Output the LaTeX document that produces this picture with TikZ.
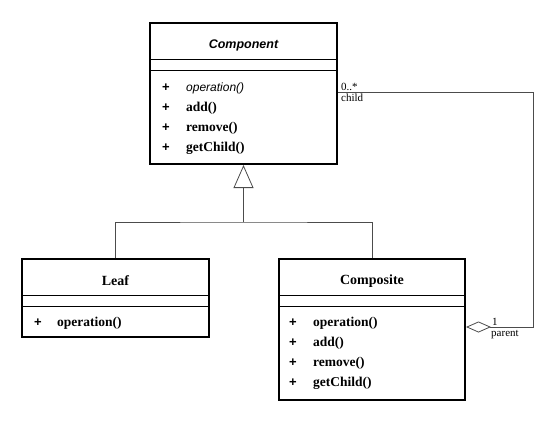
\documentclass[tikz,border=0pt]{standalone}
\usepackage{fontspec}
\setmainfont{Liberation Serif}
\newfontfamily\headsans{Liberation Sans}
\usepackage{tikz}
\usetikzlibrary{arrows.meta}

\begin{document}
\begin{tikzpicture}[%
  x=1pt, y=-1pt,
  classbox/.style={draw, line width=2pt, inner sep=0pt},
  divider/.style={draw, line width=0.8pt},
  member/.style={anchor=west, inner sep=0pt, font=\fontsize{13.5}{15}\selectfont\bfseries},
  plus/.style={anchor=west, inner sep=0pt, font=\headsans\fontsize{13}{15}\selectfont\bfseries},
  classname/.style={inner sep=0pt, font=\fontsize{14}{16}\selectfont\bfseries},
  role/.style={inner sep=0pt, font=\fontsize{11}{12}\selectfont},
  link/.style={draw, line width=0.8pt, black!70}
  ]
  \useasboundingbox (0,0) rectangle (557,424);
  % classes
  \node[classbox, minimum width=187, minimum height=141] (component) at (243.5,93.5) {};
  \node[classbox, minimum width=187, minimum height=78] (leaf) at (115.5,298) {};
  \node[classbox, minimum width=186, minimum height=141] (composite) at (372,329.5) {};
  % compartments
  \draw[divider] (component.west |- 0,59) -- (component.east |- 0,59)
    (component.west |- 0,70) -- (component.east |- 0,70);
  \draw[divider] (leaf.west |- 0,295) -- (leaf.east |- 0,295)
    (leaf.west |- 0,306) -- (leaf.east |- 0,306);
  \draw[divider] (composite.west |- 0,295) -- (composite.east |- 0,295)
    (composite.west |- 0,306) -- (composite.east |- 0,306);
  % names
  \node[classname, font=\headsans\fontsize{12.5}{14}\selectfont\bfseries\itshape] (componentname) at (243.5,45) {Component};
  \node[classname] (leafname) at (115.5,281) {Leaf};
  \node[classname] (compositename) at (372,281) {Composite};
  % operations
  \node[plus] (cplus1) at (162,88) {+};
  \node[member, font=\headsans\fontsize{12}{14}\selectfont\itshape] (cop1) at (186,88) {operation()};
  \foreach \y/\op [count=\i from 2] in {108/add(), 128/remove(), 148/getChild()} {
    \node[plus] (cplus\i) at (162,\y) {+};
    \node[member] (cop\i) at (186,\y) {\op};
  }
  \node[plus] (lplus1) at (34,323) {+};
  \node[member] (lop1) at (57,323) {operation()};
  \foreach \y/\op [count=\i] in {323/operation(), 343/add(), 363/remove(), 383/getChild()} {
    \node[plus] (kplus\i) at (289,\y) {+};
    \node[member] (kop\i) at (313,\y) {\op};
  }
  % generalization
  \coordinate (fork) at (243.5,222);
  \draw[link] (leaf.north) |- (fork) -| (composite.north);
  \draw[link, -{Triangle[open, length=23, width=20, fill=white]}] (fork) -- (component.south);
  % aggregation
  \coordinate (childend) at (component.east |- 0,92);
  \coordinate (parentend) at (composite.east |- 0,327);
  \coordinate (turnA) at (533,92);
  \coordinate (turnB) at (533,327);
  \draw[link, -{Diamond[open, length=25, width=11, fill=white]}] (childend) -- (turnA) -- (turnB) -- (parentend);
  \node[role, anchor=south west] (childmult) at (341,91) {0..*};
  \node[role, anchor=north west] (childrole) at (341,94) {child};
  \node[role, anchor=south west] (parentmult) at (492,326) {1};
  \node[role, anchor=north west] (parentrole) at (491,330) {parent};
\end{tikzpicture}
\end{document}
